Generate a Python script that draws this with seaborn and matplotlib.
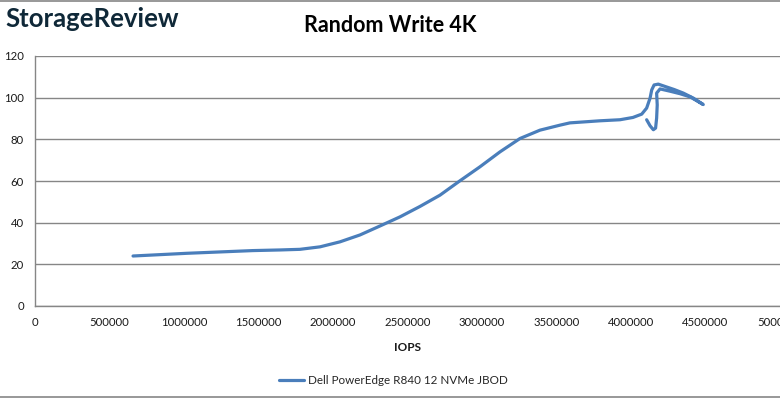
import matplotlib
matplotlib.use("Agg")
import matplotlib.pyplot as plt
from matplotlib.lines import Line2D
import pandas as pd
import seaborn as sns

SERIES_NAME = "Dell PowerEdge R840 12 NVMe JBOD"

# curve, in drawing order (it turns back on itself at the top end)
iops = [
    658000, 1020000, 1463000, 1644000, 1778000, 1913000, 2047000, 2181000,
    2315000, 2450000, 2584000, 2718000, 2852000, 2986000, 3121000, 3255000,
    3389000, 3523000, 3590000, 3792000, 3926000, 4013000, 4072000, 4105000,
    4128000, 4139000, 4155000, 4183000, 4228000, 4290000, 4351000, 4418000,
    4485000, 4396000, 4329000, 4262000, 4195000, 4172000, 4176000, 4172000,
    4165000, 4150000, 4128000, 4105000,
]
latency = [
    24.0, 25.3, 26.6, 26.9, 27.2, 28.4, 30.8, 34.1,
    38.4, 42.8, 47.8, 53.2, 60.1, 66.8, 74.0, 80.4,
    84.4, 86.8, 87.9, 88.9, 89.4, 90.5, 92.1, 95.0,
    99.8, 103.7, 106.1, 106.5, 105.4, 103.9, 102.2, 99.8,
    96.7, 100.4, 101.9, 103.1, 104.2, 102.2, 96.5, 90.2,
    85.4, 84.6, 86.5, 89.4,
]
x_ticks = [0, 500000, 1000000, 1500000, 2000000, 2500000, 3000000, 3500000, 4000000, 4500000, 5000000]
y_ticks = [0, 20, 40, 60, 80, 100, 120]

LINE_BLUE = "#4a7ebb"
AXIS_GREY = "#868686"
TEXT = "#1a1a1a"

sns.set_theme(style="white")
plt.rcParams["font.family"] = ["Lato", "DejaVu Sans"]

df = pd.DataFrame({"IOPS": iops, "Latency": latency, "Series": SERIES_NAME})

fig = plt.figure(figsize=(7.8, 4.01), dpi=100)
ax = fig.add_axes([35 / 780, 1 - 306 / 401, 745 / 780, 250 / 401])

sns.lineplot(
    data=df, x="IOPS", y="Latency", hue="Series", palette=[LINE_BLUE],
    sort=False, estimator=None, ax=ax, linewidth=2.3, legend=False,
    solid_capstyle="round", solid_joinstyle="round",
)

ax.set_xlim(0, 5000000)
ax.set_ylim(0, 120)
ax.set_xticks(x_ticks)
ax.set_yticks(y_ticks)
ax.set_xticklabels([str(t) for t in x_ticks])
ax.set_yticklabels([str(t) for t in y_ticks])
ax.yaxis.grid(True, color=AXIS_GREY, linewidth=1)
ax.xaxis.grid(False)
for side in ["top", "right"]:
    ax.spines[side].set_visible(False)
for side in ["left", "bottom"]:
    ax.spines[side].set_color(AXIS_GREY)
    ax.spines[side].set_linewidth(1)
ax.tick_params(axis="both", which="major", direction="out", length=4, width=1,
               color=AXIS_GREY, labelcolor=TEXT, labelsize=8.2, pad=4)
ax.set_xlabel("IOPS", fontsize=8.5, fontweight="bold", color=TEXT, labelpad=10)
ax.set_ylabel("")
for lbl in ax.get_xticklabels() + ax.get_yticklabels():
    lbl.set_clip_on(False)

fig.text(0.5, 1 - 25 / 401, "Random Write 4K", ha="center", va="center",
         fontsize=15.5, fontweight="bold", color="#000000")
fig.text(5 / 780, 1 - 19 / 401, "StorageReview", ha="left", va="center",
         fontsize=18.5, fontweight="bold", color="#0f2838")

handle = Line2D([], [], color=LINE_BLUE, linewidth=2.3)
fig.legend([handle], [SERIES_NAME], loc="center", bbox_to_anchor=(393 / 780, 1 - 381 / 401),
           frameon=False, fontsize=8.4, handlelength=2.2, handletextpad=0.3)

fig.add_artist(Line2D([0, 1], [1 - 0.5 / 401, 1 - 0.5 / 401], color=AXIS_GREY, linewidth=1.2))
fig.add_artist(Line2D([0, 1], [1 - 397 / 401, 1 - 397 / 401], color=AXIS_GREY, linewidth=1.2))

fig.savefig("out.png", dpi=100)
